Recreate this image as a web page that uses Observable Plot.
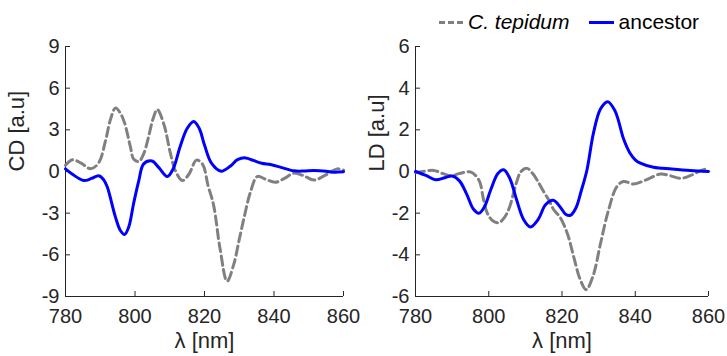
<!DOCTYPE html>
<html>
<head>
<meta charset="utf-8">
<script src="https://cdn.jsdelivr.net/npm/d3@7"></script>
<script src="https://cdn.jsdelivr.net/npm/@observablehq/plot@0.6"></script>
<style>
  body { margin: 0; background: #fff; font-family: "Liberation Sans", Arial, sans-serif; }
  #wrap { position: relative; width: 727px; height: 356px; overflow: hidden; }
  #wrap svg { position: absolute; top: 0; }
  #legend { position: absolute; top: 10px; left: 439px; height: 24px; display: flex; align-items: center; font-size: 21px; color: #000; }
  .sw { display: inline-block; width: 25px; height: 0; margin-right: 5px; }
</style>
</head>
<body>
<div id="wrap">
  <div id="legend">
    <span class="sw" style="border-top: 3px dashed #808080; width:24px;"></span>
    <span style="font-style: italic;">C. tepidum</span>
    <span class="sw" style="border-top: 3px solid #0000ff; margin-left: 19px;"></span>
    <span>ancestor</span>
  </div>
</div>
<script>
// ---- data ----
const seriesNames = ["C. tepidum", "ancestor"];
const xTicks = [780, 800, 820, 840, 860];
const cdTicks = [-9, -6, -3, 0, 3, 6, 9];
const ldTicks = [-6, -4, -2, 0, 2, 4, 6];

const cdTepidum = [
  [780, 0.45], [782, 0.84], [784.5, 0.6], [787.2, 0.2], [789.5, 0.6], [791.5, 2.2],
  [793, 3.8], [794.4, 4.58], [796, 4.1], [797, 3.5], [798.7, 1.75], [799.6, 0.9],
  [801.1, 0.72], [802.5, 1.27], [803.9, 2.5], [805.2, 3.8], [806.4, 4.46], [808.3, 3.4],
  [810.2, 1.3], [811.6, 0.07], [813.6, -0.65], [815.5, -0.2], [817.7, 0.82], [819.5, 0.5],
  [821, -1.0], [822.6, -2.4], [824.5, -5.6], [826.5, -7.9], [828.4, -6.7], [830, -4.9],
  [831.5, -3.2], [833.2, -1.5], [835.2, -0.36], [837.5, -0.55], [840.4, -0.77], [843, -0.5],
  [845.7, -0.12], [848.5, -0.3], [851.5, -0.62], [854.5, -0.3], [858.2, 0.19], [860, 0.1]
];
const cdAncestor = [
  [780, 0.19], [782, -0.2], [785.3, -0.65], [787.5, -0.5], [789.6, -0.3], [791, -0.6],
  [792, -1.1], [794.4, -3.3], [795.8, -4.25], [797, -4.54], [798.2, -4.0], [799.6, -2.3],
  [801.1, -0.65], [802.5, 0.55], [804.9, 0.75], [806.8, 0.3], [809.3, -0.36], [811, 0.2],
  [813, 1.8], [815, 3.1], [816.9, 3.6], [818.5, 3.1], [820, 1.9], [822, 0.6],
  [824.8, 0.02], [827.5, 0.4], [829.5, 0.85], [831.8, 0.98], [834, 0.8], [836.5, 0.6],
  [839, 0.5], [842, 0.3], [845.7, 0.05], [848.5, 0.03], [851.5, 0.07], [855, 0.02],
  [857, -0.05], [860, -0.02]
];
const ldTepidum = [
  [780, -0.05], [782, 0.0], [785, 0.05], [787.5, -0.1], [789.6, -0.2], [792, -0.1],
  [795, -0.02], [797.3, -0.41], [798.6, -1.37], [799.6, -2.0], [801, -2.35], [802.7, -2.46],
  [804.3, -2.2], [805.7, -1.7], [807.5, -0.57], [808.8, 0.0], [810.5, 0.15], [812, -0.1],
  [813.2, -0.41], [815, -0.97], [816.5, -1.4], [817.8, -1.85], [819.5, -2.2], [821.5, -3.0],
  [823.2, -4.1], [825, -5.2], [826.6, -5.67], [828.5, -5.0], [830.5, -3.47], [832.7, -1.85],
  [835, -0.72], [836.8, -0.48], [839.6, -0.6], [843, -0.4], [846.9, -0.12], [849.5, -0.2],
  [852.4, -0.33], [855, -0.2], [858, 0.05], [860, 0.15]
];
const ldAncestor = [
  [780, 0], [783, -0.2], [785.5, -0.4], [788, -0.3], [790, -0.22], [792, -0.45],
  [794, -1.1], [795.8, -1.8], [797.3, -2.0], [798.8, -1.7], [800.5, -0.9], [802.5, -0.1],
  [804.1, 0.08], [805.8, -0.35], [807.5, -1.3], [809.5, -2.3], [811.4, -2.66], [813.5, -2.3],
  [815.5, -1.6], [817.6, -1.38], [819.5, -1.7], [821, -2.05], [822.3, -2.1], [823.8, -1.75],
  [825.3, -0.9], [826.8, 0.06], [828.6, 1.85], [830.5, 3.0], [832.5, 3.35], [834.5, 2.9],
  [836.9, 1.52], [838.5, 0.9], [840, 0.56], [841.4, 0.4], [845, 0.2], [850, 0.12],
  [855, 0.05], [860, 0.0]
];

const axisColor = "#262626";
const tickFont = 20;
const labelFont = 22;

function panel({left, width, marginLeft, marginRight, yDomain, yTicks, yLabel, tep, anc}) {
  const p = Plot.plot({
    width, height: 356,
    marginLeft, marginRight, marginTop: 46, marginBottom: 60,
    style: {fontFamily: "Liberation Sans, Arial, sans-serif", fontSize: tickFont + "px", color: axisColor, background: "transparent", overflow: "visible"},
    x: {domain: [780, 860]},
    y: {domain: yDomain},
    marks: [
      Plot.axisX({ticks: xTicks, tickSize: -5, tickPadding: 17, label: null, stroke: axisColor, strokeWidth: 1, tickFormat: d => String(d)}),
      Plot.axisY({ticks: yTicks, tickSize: -5, tickPadding: 11, label: null, stroke: axisColor, strokeWidth: 1, tickFormat: d => String(d).replace("\u2212", "-")}),
      Plot.ruleX([780], {stroke: axisColor, strokeWidth: 1}),
      Plot.ruleY([yDomain[0]], {stroke: axisColor, strokeWidth: 1}),
      Plot.line(tep, {x: d => d[0], y: d => d[1], stroke: "#808080", strokeWidth: 3, strokeDasharray: "9,4.5", curve: "catmull-rom"}),
      Plot.line(anc, {x: d => d[0], y: d => d[1], stroke: "#0000ff", strokeWidth: 3, curve: "catmull-rom"}),
      Plot.text([yLabel], {frameAnchor: "left", dx: -marginLeft + 16, rotate: -90, fill: axisColor, fontSize: labelFont}),
      Plot.text(["\u03bb [nm]"], {frameAnchor: "bottom", dy: 51, fill: axisColor, fontSize: labelFont})
    ]
  });
  p.style.left = left + "px";
  return p;
}

const wrap = document.getElementById("wrap");
wrap.appendChild(panel({left: 0, width: 360, marginLeft: 65, marginRight: 17, yDomain: [-9, 9], yTicks: cdTicks, yLabel: "CD [a.u]", tep: cdTepidum, anc: cdAncestor}));
wrap.appendChild(panel({left: 360, width: 367, marginLeft: 55, marginRight: 19, yDomain: [-6, 6], yTicks: ldTicks, yLabel: "LD [a.u]", tep: ldTepidum, anc: ldAncestor}));
</script>
</body>
</html>
